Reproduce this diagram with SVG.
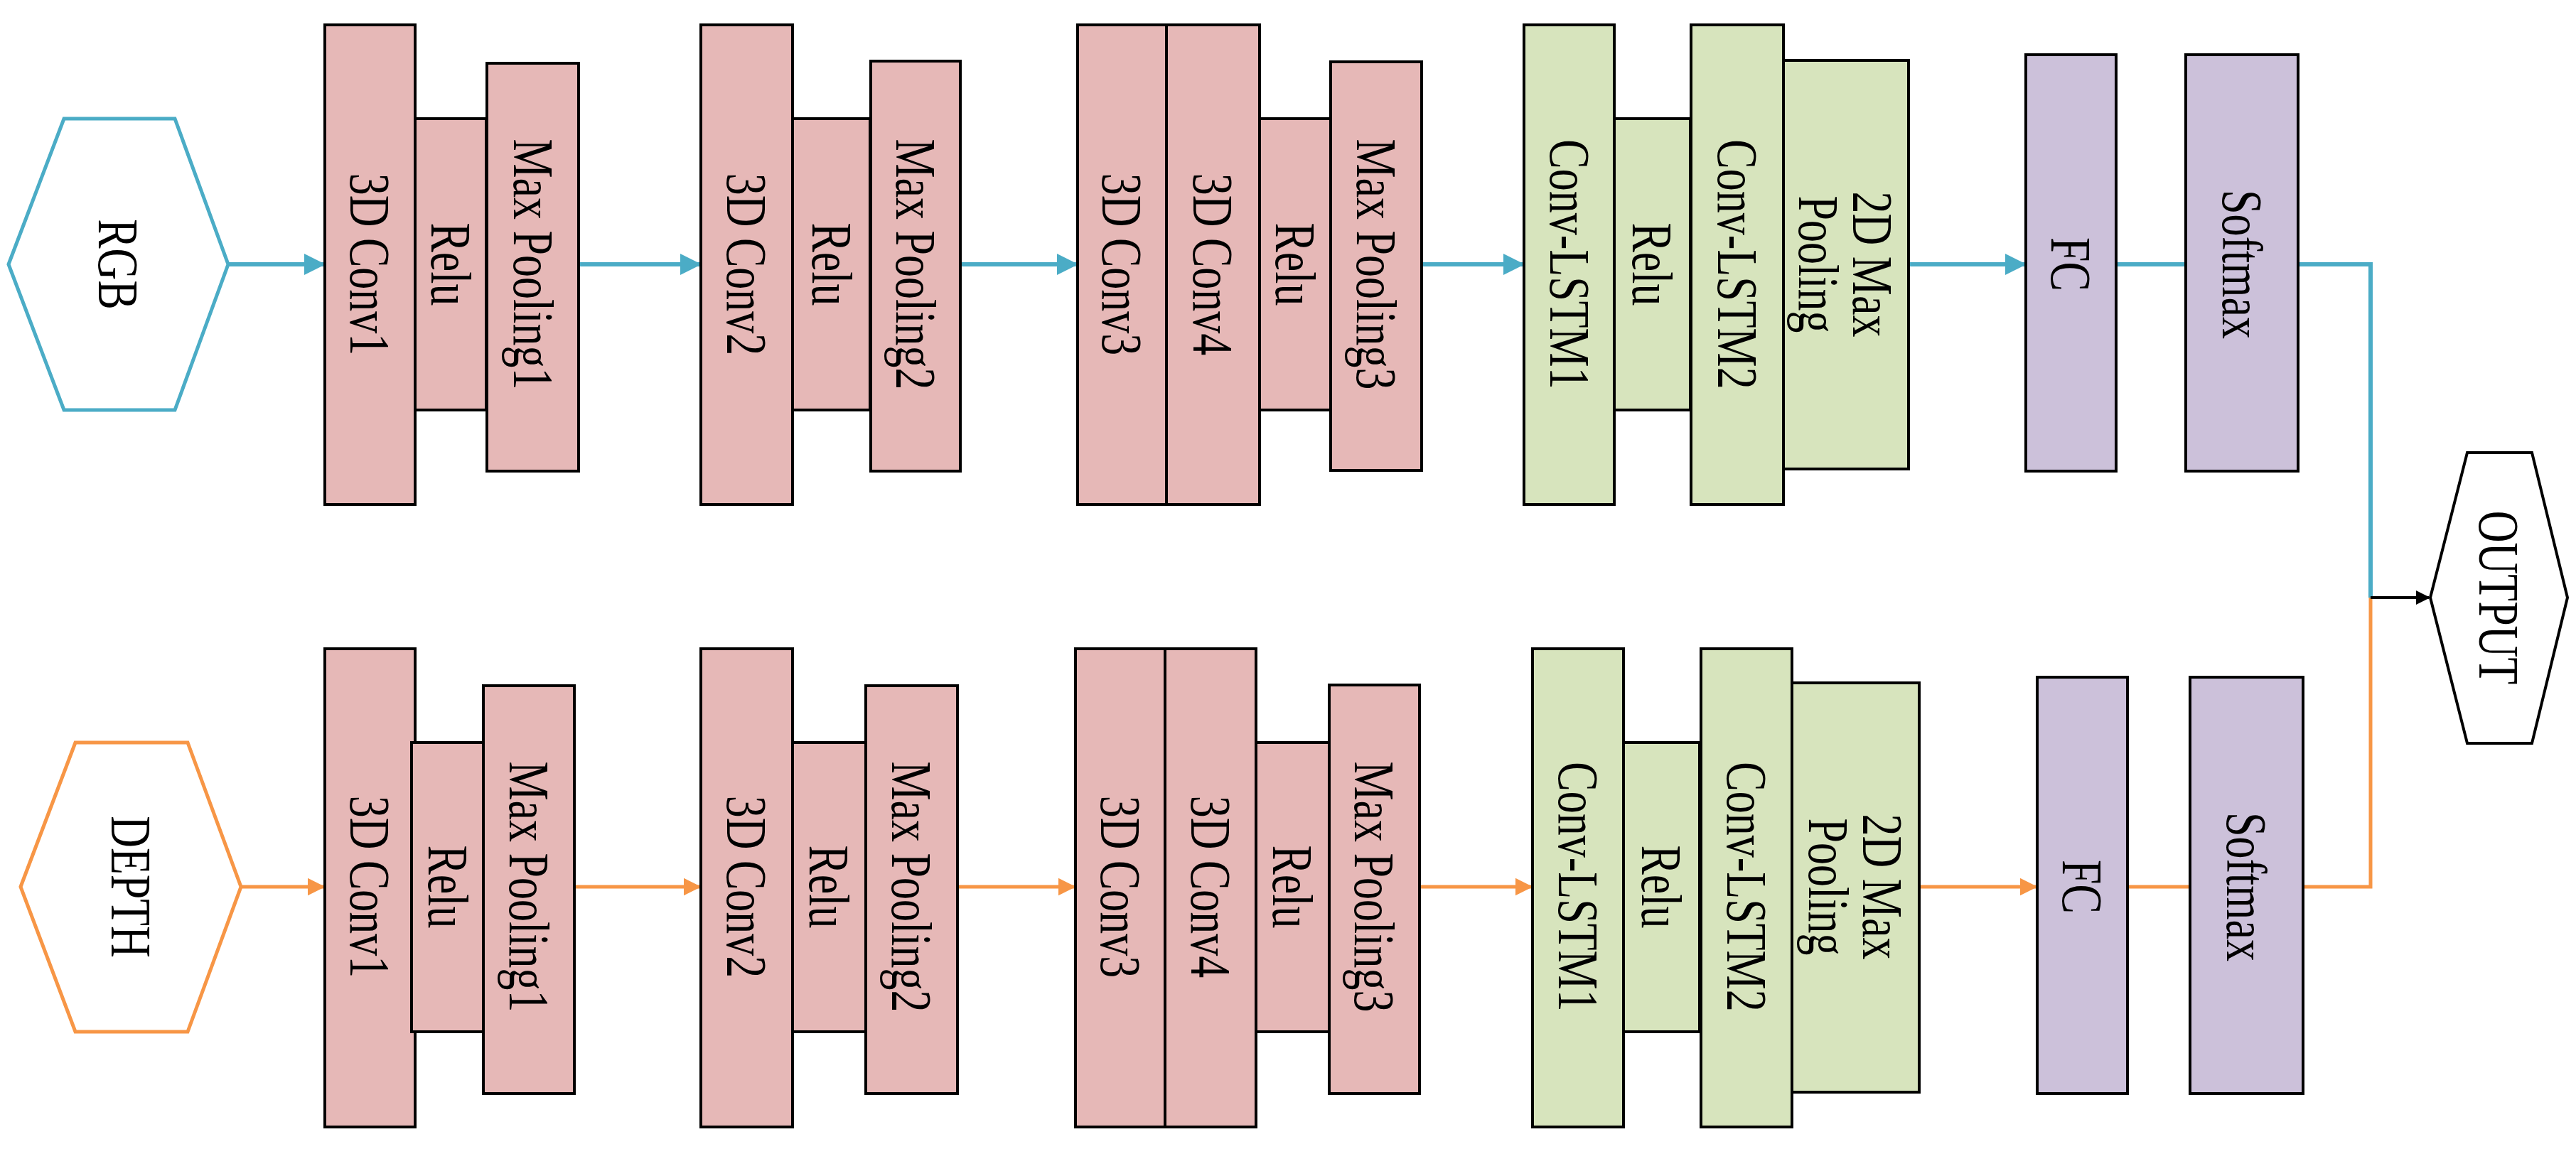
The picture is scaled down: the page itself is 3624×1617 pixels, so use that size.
<svg xmlns="http://www.w3.org/2000/svg" width="3624" height="1617" viewBox="0 0 3624 1617">
<style>
.p{fill:#e6b8b7;stroke:#000;stroke-width:4}
.g{fill:#d7e4bd;stroke:#000;stroke-width:4}
.v{fill:#ccc1da;stroke:#000;stroke-width:4}
text{font-family:"Liberation Serif","Times New Roman",serif;font-size:62px;fill:#000;text-anchor:middle;dominant-baseline:central}
.b{stroke:#4bacc6;stroke-width:6;fill:none}
.o{stroke:#f79646;stroke-width:5;fill:none}
</style>
<defs>
<marker id="ab" markerWidth="5" markerHeight="5" refX="4.5" refY="2.5" orient="auto"><path d="M0,0L5,2.5L0,5z" fill="#4bacc6"/></marker>
<marker id="ao" markerWidth="5" markerHeight="5" refX="4.5" refY="2.5" orient="auto"><path d="M0,0L5,2.5L0,5z" fill="#f79646"/></marker>
<marker id="ak" markerWidth="5" markerHeight="5" refX="4.5" refY="2.5" orient="auto"><path d="M0,0L5,2.5L0,5z" fill="#000"/></marker>
</defs>
<g id="connectors">
<path class="b" d="M321,372H455" marker-end="url(#ab)"/>
<path class="b" d="M814,372H984" marker-end="url(#ab)"/>
<path class="b" d="M1351,372H1514" marker-end="url(#ab)"/>
<path class="b" d="M2000,372H2142" marker-end="url(#ab)"/>
<path class="b" d="M2685,372H2848" marker-end="url(#ab)"/>
<path class="b" d="M2977,372H3075"/>
<path class="b" d="M3233,372H3335V841"/>
<path class="o" d="M339,1248H455" marker-end="url(#ao)"/>
<path class="o" d="M808,1248H984" marker-end="url(#ao)"/>
<path class="o" d="M1347,1248H1511" marker-end="url(#ao)"/>
<path class="o" d="M1997,1248H2154" marker-end="url(#ao)"/>
<path class="o" d="M2700,1248H2864" marker-end="url(#ao)"/>
<path class="o" d="M2993,1248H3081"/>
<path class="o" d="M3240,1248H3335V841"/>
<path d="M3335,841H3417" stroke="#000" stroke-width="4" marker-end="url(#ak)"/>
</g>
<g id="rgb"><path d="M12,372L90,167H246L321,372L246,577H90Z" fill="#fff" stroke="#4bacc6" stroke-width="5"/><text transform="translate(166,372) rotate(90) scale(1,1.3)">RGB</text></g>
<g id="depth"><path d="M29,1248L106,1045H264L339,1248L264,1452H106Z" fill="#fff" stroke="#f79646" stroke-width="5"/><text transform="translate(184,1248) rotate(90) scale(1,1.3)">DEPTH</text></g>
<g id="output"><path d="M3419,841L3471,637H3562L3612,841L3562,1046H3471Z" fill="#fff" stroke="#000" stroke-width="4"/><text transform="translate(3515,841) rotate(90) scale(1,1.3)">OUTPUT</text></g>
<g id="t-conv1"><rect class="p" x="457" y="35" width="127" height="675"/><text transform="translate(520,372) rotate(90) scale(1,1.3)">3D Conv1</text></g>
<g id="t-relu1"><rect class="p" x="584" y="167" width="100" height="410"/><text transform="translate(634,372) rotate(90) scale(1,1.3)">Relu</text></g>
<g id="t-pool1"><rect class="p" x="685" y="89" width="129" height="574"/><text transform="translate(750,372) rotate(90) scale(1,1.3)">Max Pooling1</text></g>
<g id="t-conv2"><rect class="p" x="986" y="35" width="129" height="675"/><text transform="translate(1050,372) rotate(90) scale(1,1.3)">3D Conv2</text></g>
<g id="t-relu2"><rect class="p" x="1115" y="167" width="109" height="410"/><text transform="translate(1170,372) rotate(90) scale(1,1.3)">Relu</text></g>
<g id="t-pool2"><rect class="p" x="1225" y="86" width="126" height="577"/><text transform="translate(1288,372) rotate(90) scale(1,1.3)">Max Pooling2</text></g>
<g id="t-conv3"><rect class="p" x="1516" y="35" width="125" height="675"/><text transform="translate(1578,372) rotate(90) scale(1,1.3)">3D Conv3</text></g>
<g id="t-conv4"><rect class="p" x="1641" y="35" width="131" height="675"/><text transform="translate(1706,372) rotate(90) scale(1,1.3)">3D Conv4</text></g>
<g id="t-relu3"><rect class="p" x="1772" y="167" width="100" height="410"/><text transform="translate(1822,372) rotate(90) scale(1,1.3)">Relu</text></g>
<g id="t-pool3"><rect class="p" x="1872" y="87" width="128" height="575"/><text transform="translate(1936,372) rotate(90) scale(1,1.3)">Max Pooling3</text></g>
<g id="t-lstm1"><rect class="g" x="2144" y="35" width="127" height="675"/><text transform="translate(2208,372) rotate(90) scale(1,1.3)">Conv-LSTM1</text></g>
<g id="t-relu4"><rect class="g" x="2271" y="167" width="107" height="410"/><text transform="translate(2324,372) rotate(90) scale(1,1.3)">Relu</text></g>
<g id="t-lstm2"><rect class="g" x="2379" y="35" width="130" height="675"/><text transform="translate(2444,372) rotate(90) scale(1,1.3)">Conv-LSTM2</text></g>
<g id="t-2dpool"><rect class="g" x="2509" y="85" width="176" height="575"/><text transform="translate(2634,372) rotate(90) scale(1,1.3)">2D Max</text><text transform="translate(2558,372) rotate(90) scale(1,1.3)">Pooling</text></g>
<g id="t-fc"><rect class="v" x="2850" y="77" width="127" height="586"/><text transform="translate(2913,372) rotate(90) scale(1,1.3)">FC</text></g>
<g id="t-softmax"><rect class="v" x="3075" y="77" width="158" height="586"/><text transform="translate(3154,372) rotate(90) scale(1,1.3)">Softmax</text></g>
<g id="b-conv1"><rect class="p" x="457" y="913" width="127" height="673"/><text transform="translate(520,1248) rotate(90) scale(1,1.3)">3D Conv1</text></g>
<g id="b-relu1"><rect class="p" x="579" y="1045" width="101" height="407"/><text transform="translate(630,1248) rotate(90) scale(1,1.3)">Relu</text></g>
<g id="b-pool1"><rect class="p" x="680" y="965" width="128" height="574"/><text transform="translate(744,1248) rotate(90) scale(1,1.3)">Max Pooling1</text></g>
<g id="b-conv2"><rect class="p" x="986" y="913" width="129" height="673"/><text transform="translate(1050,1248) rotate(90) scale(1,1.3)">3D Conv2</text></g>
<g id="b-relu2"><rect class="p" x="1115" y="1045" width="103" height="407"/><text transform="translate(1166,1248) rotate(90) scale(1,1.3)">Relu</text></g>
<g id="b-pool2"><rect class="p" x="1218" y="965" width="129" height="574"/><text transform="translate(1282,1248) rotate(90) scale(1,1.3)">Max Pooling2</text></g>
<g id="b-conv3"><rect class="p" x="1513" y="913" width="126" height="673"/><text transform="translate(1576,1248) rotate(90) scale(1,1.3)">3D Conv3</text></g>
<g id="b-conv4"><rect class="p" x="1639" y="913" width="128" height="673"/><text transform="translate(1703,1248) rotate(90) scale(1,1.3)">3D Conv4</text></g>
<g id="b-relu3"><rect class="p" x="1767" y="1045" width="103" height="407"/><text transform="translate(1818,1248) rotate(90) scale(1,1.3)">Relu</text></g>
<g id="b-pool3"><rect class="p" x="1870" y="964" width="127" height="575"/><text transform="translate(1933,1248) rotate(90) scale(1,1.3)">Max Pooling3</text></g>
<g id="b-lstm1"><rect class="g" x="2156" y="913" width="128" height="673"/><text transform="translate(2220,1248) rotate(90) scale(1,1.3)">Conv-LSTM1</text></g>
<g id="b-relu4"><rect class="g" x="2284" y="1045" width="107" height="407"/><text transform="translate(2337,1248) rotate(90) scale(1,1.3)">Relu</text></g>
<g id="b-lstm2"><rect class="g" x="2393" y="913" width="128" height="673"/><text transform="translate(2457,1248) rotate(90) scale(1,1.3)">Conv-LSTM2</text></g>
<g id="b-2dpool"><rect class="g" x="2521" y="961" width="179" height="576"/><text transform="translate(2648,1248) rotate(90) scale(1,1.3)">2D Max</text><text transform="translate(2572,1248) rotate(90) scale(1,1.3)">Pooling</text></g>
<g id="b-fc"><rect class="v" x="2866" y="953" width="127" height="586"/><text transform="translate(2929,1248) rotate(90) scale(1,1.3)">FC</text></g>
<g id="b-softmax"><rect class="v" x="3081" y="953" width="159" height="586"/><text transform="translate(3160,1248) rotate(90) scale(1,1.3)">Softmax</text></g>
</svg>
